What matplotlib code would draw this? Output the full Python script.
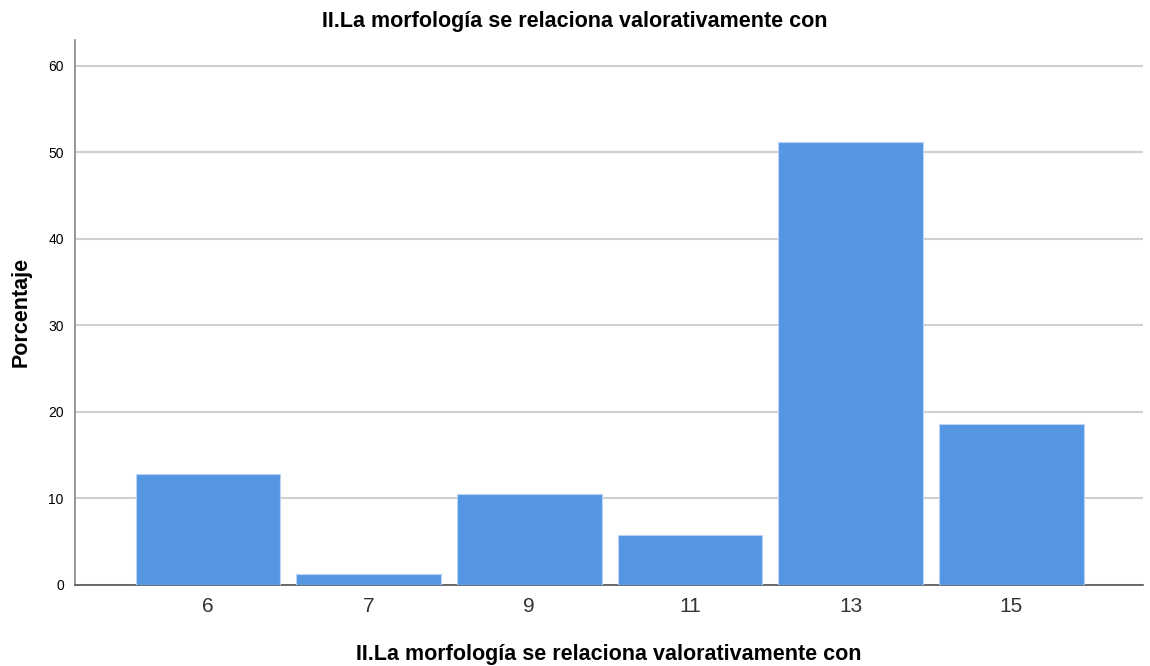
import matplotlib.pyplot as plt
import numpy as np

categorias = ['6', '7', '9', '11', '13', '15']
porcentajes = [12.8, 1.2, 10.5, 5.8, 51.2, 18.6]
yticks = [0, 10, 20, 30, 40, 50, 60]
titulo = 'II.La morfología se relaciona valorativamente con'

plt.rcParams['font.family'] = ['Liberation Sans', 'DejaVu Sans']

fig = plt.figure(figsize=(11.5, 6.66), dpi=100)
ax = fig.add_axes([0.0652, 0.122, 0.9287, 0.818])

x = np.arange(len(categorias))
ax.bar(x, porcentajes, width=0.9, color='#5596e3', edgecolor='#b8d3f3',
       linewidth=0.8, zorder=3)

ax.set_xlim(-0.828, len(categorias) - 1 + 0.82)
ax.set_ylim(0, 63)
ax.set_yticks(yticks)
ax.set_xticks(x)
ax.set_xticklabels(categorias, fontsize=15, color='#333333')
ax.tick_params(axis='y', labelsize=10, length=0, pad=8)
ax.tick_params(axis='x', length=0, pad=9)
ax.yaxis.grid(True, color='#d0d0d0', linewidth=1.5, zorder=0)

for s in ['top', 'right']:
    ax.spines[s].set_visible(False)
ax.spines['left'].set_color('#888888')
ax.spines['bottom'].set_color('#555555')
ax.spines['left'].set_linewidth(1.2)
ax.spines['bottom'].set_linewidth(1.2)

ax.set_ylabel('Porcentaje', fontsize=15.5, fontweight='bold', labelpad=12)
ax.set_xlabel(titulo, fontsize=15.5, fontweight='bold', labelpad=20)
fig.text(0.5, 0.968, titulo, ha='center', va='center', fontsize=15.5,
         fontweight='bold')

fig.savefig('out.png', dpi=100)
